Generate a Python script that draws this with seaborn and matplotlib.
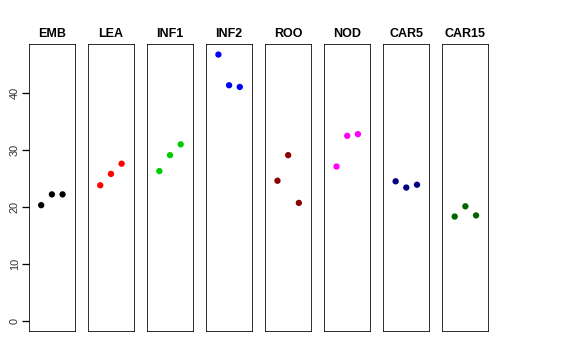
import pandas as pd

import matplotlib
matplotlib.use("Agg")

import matplotlib.pyplot as plt
import seaborn as sns

# -----------------------------
# Data
# -----------------------------
tissues = ["EMB", "LEA", "INF1", "INF2", "ROO", "NOD", "CAR5", "CAR15"]
colors = ["black", "red", "#00CD00", "blue", "#8B0000", "magenta", "#000080", "#006400"]
replicate = [1, 2, 3]
yticks = [0, 10, 20, 30, 40]

emb = [20.3, 22.2, 22.2]
lea = [23.8, 25.8, 27.6]
inf1 = [26.3, 29.1, 31.0]
inf2 = [46.8, 41.4, 41.1]
roo = [24.6, 29.1, 20.7]
nod = [27.1, 32.5, 32.8]
car5 = [24.5, 23.4, 23.9]
car15 = [18.3, 20.1, 18.5]

values = [emb, lea, inf1, inf2, roo, nod, car5, car15]

df = pd.DataFrame({
    "tissue": [t for t in tissues for _ in replicate],
    "rep": replicate * len(tissues),
    "value": [v for vals in values for v in vals],
})

# -----------------------------
# Plot
# -----------------------------
plt.rcParams["font.family"] = ["Liberation Sans", "DejaVu Sans"]

fig, axes = plt.subplots(1, len(tissues), figsize=(8, 5), dpi=72)
fig.subplots_adjust(left=0.050, right=0.848, top=0.878, bottom=0.080, wspace=0.28)

ymax = df["value"].max()
pad = ymax * 0.04

for i, (ax, tissue, col) in enumerate(zip(axes, tissues, colors)):
    sub = df[df["tissue"] == tissue]
    sns.scatterplot(data=sub, x="rep", y="value", color=col, s=40,
                    edgecolor="none", ax=ax)
    ax.set_xlim(-0.16, 4.16)
    ax.set_ylim(-pad, ymax + pad)
    ax.set_xticks([])
    ax.set_xlabel("")
    ax.set_ylabel("")
    ax.set_title(tissue, fontsize=12.5, fontweight="bold", pad=7, color="black")
    for sp in ax.spines.values():
        sp.set_color("black")
        sp.set_linewidth(0.8)
    if i == 0:
        ax.set_yticks(yticks)
        ax.tick_params(axis="y", direction="out", length=7, width=1.3,
                       color="black", labelsize=11, pad=2,
                       labelcolor="#333333", left=True, right=False)
        for lab in ax.get_yticklabels():
            lab.set_rotation(90)
            lab.set_va("center")
    else:
        ax.set_yticks([])

plt.savefig("out.png", dpi=72)
plt.close()
